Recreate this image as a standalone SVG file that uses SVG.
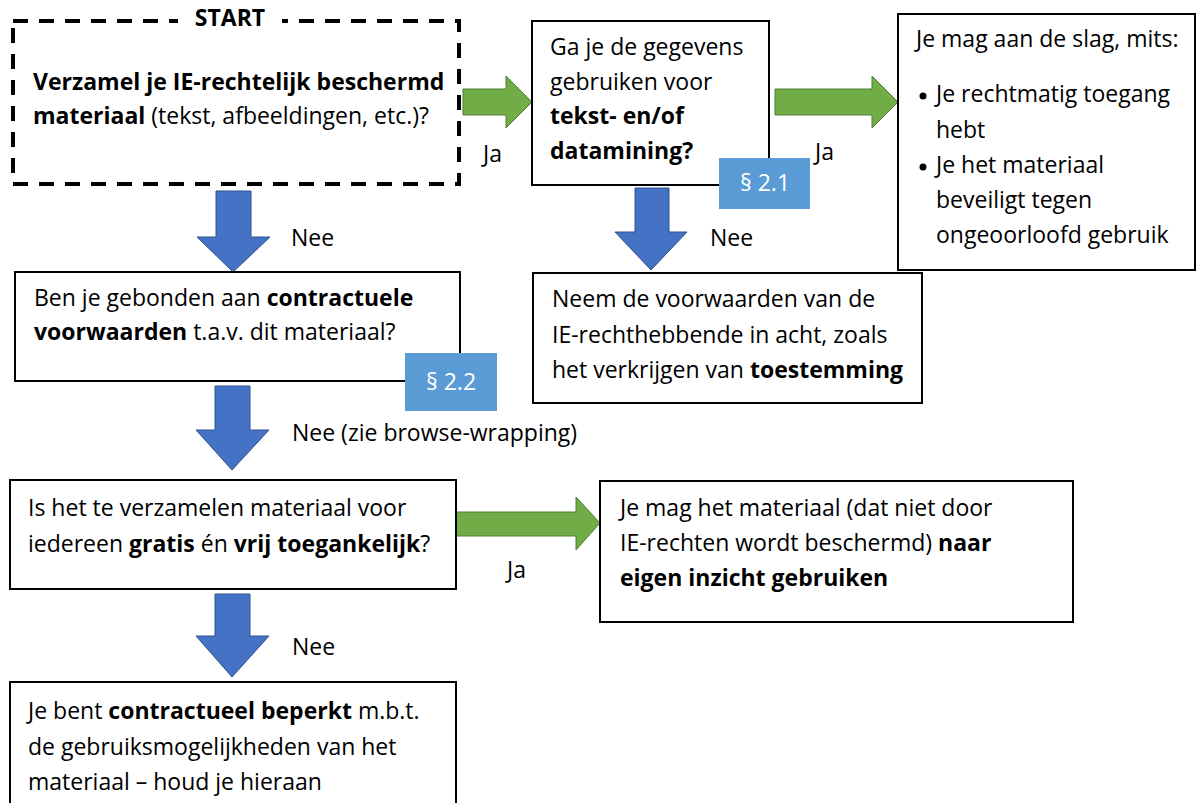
<svg xmlns="http://www.w3.org/2000/svg" width="1196" height="803" viewBox="0 0 1196 803">
<style>
text{font-family:"Open Sans","Noto Sans",sans-serif;font-size:23px;fill:#000}
.b{font-weight:bold}
.box{fill:#fff;stroke:#000;stroke-width:2}
.dash{fill:#fff;stroke:#000;stroke-width:4;stroke-dasharray:15 11}
.blue{fill:#4472c4;stroke:#2f528f;stroke-width:1}
.green{fill:#70ad47;stroke:#507e32;stroke-width:1}
.badge{fill:#5b9bd5}
.bt{fill:#fff;text-anchor:middle}
</style>
<rect width="1196" height="803" fill="#fff"/>
<g id="connectors">
<path class="green" d="M463,89 H506 V76 L532,102 L506,128 V115 H463 Z"/>
<path class="green" d="M775,89 H872 V76 L898,102 L872,128 V115 H775 Z"/>
<path class="green" d="M456,512 H576 V497 L600,523 L576,550 V536 H456 Z"/>
<path class="blue" d="M216,191 H251 V237 H270 L233,272 L197,237 H216 Z"/>
<path class="blue" d="M635,188 H669 V232 H687 L651,270 L615,232 H635 Z"/>
<path class="blue" d="M215,386 H250 V430 H269 L232,470 L196,430 H215 Z"/>
<path class="blue" d="M215,594 H250 V636 H269 L232,677 L196,636 H215 Z"/>
<text x="483" y="162">Ja</text>
<text x="815" y="160">Ja</text>
<text x="507" y="578">Ja</text>
<text x="291" y="246">Nee</text>
<text x="710" y="246">Nee</text>
<text x="292" y="441">Nee (zie browse-wrapping)</text>
<text x="292" y="655">Nee</text>
</g>
<g id="start">
<rect class="dash" x="13" y="21" width="446" height="163"/>
<rect x="178" y="4" width="104" height="30" fill="#fff"/>
<text x="230" y="26" class="b" text-anchor="middle">START</text>
<text x="33" y="90" class="b">Verzamel je IE-rechtelijk beschermd</text>
<text x="33" y="124"><tspan class="b">materiaal</tspan> (tekst, afbeeldingen, etc.)?</text>
</g>
<g id="tdm">
<rect class="box" x="532" y="21" width="237" height="164"/>
<text x="550" y="55">Ga je de gegevens</text>
<text x="550" y="90">gebruiken voor</text>
<text x="550" y="124" class="b">tekst- en/of</text>
<text x="550" y="159" class="b">datamining?</text>
</g>
<g id="badge21">
<rect class="badge" x="719" y="158" width="91" height="51"/>
<text x="765" y="191" class="bt">§ 2.1</text>
</g>
<g id="mits">
<rect class="box" x="898" y="14" width="297" height="256"/>
<text x="916" y="47">Je mag aan de slag, mits:</text>
<circle cx="923" cy="96" r="3.5"/>
<text x="936" y="102">Je rechtmatig toegang</text>
<text x="936" y="138">hebt</text>
<circle cx="923" cy="167" r="3.5"/>
<text x="936" y="173">Je het materiaal</text>
<text x="936" y="208">beveiligt tegen</text>
<text x="936" y="243">ongeoorloofd gebruik</text>
</g>
<g id="contract">
<rect class="box" x="15" y="272" width="445" height="109"/>
<text x="34" y="306">Ben je gebonden aan <tspan class="b">contractuele</tspan></text>
<text x="34" y="340"><tspan class="b">voorwaarden</tspan> t.a.v. dit materiaal?</text>
</g>
<g id="badge22">
<rect class="badge" x="405" y="353" width="92" height="58"/>
<text x="451" y="390" class="bt">§ 2.2</text>
</g>
<g id="neem">
<rect class="box" x="533" y="273" width="389" height="130"/>
<text x="552" y="307">Neem de voorwaarden van de</text>
<text x="552" y="343">IE-rechthebbende in acht, zoals</text>
<text x="552" y="378">het verkrijgen van <tspan class="b">toestemming</tspan></text>
</g>
<g id="gratis">
<rect class="box" x="10" y="480" width="446" height="109"/>
<text x="28" y="516">Is het te verzamelen materiaal voor</text>
<text x="28" y="552">iedereen <tspan class="b">gratis</tspan> én <tspan class="b">vrij toegankelijk</tspan>?</text>
</g>
<g id="vrij">
<rect class="box" x="600" y="481" width="473" height="141"/>
<text x="620" y="516">Je mag het materiaal (dat niet door</text>
<text x="620" y="551">IE-rechten wordt beschermd) <tspan class="b">naar</tspan></text>
<text x="620" y="586" class="b">eigen inzicht gebruiken</text>
</g>
<g id="beperkt">
<rect class="box" x="10" y="682" width="446" height="130"/>
<text x="28" y="719">Je bent <tspan class="b">contractueel beperkt</tspan> m.b.t.</text>
<text x="28" y="755">de gebruiksmogelijkheden van het</text>
<text x="28" y="790">materiaal – houd je hieraan</text>
</g>
</svg>
